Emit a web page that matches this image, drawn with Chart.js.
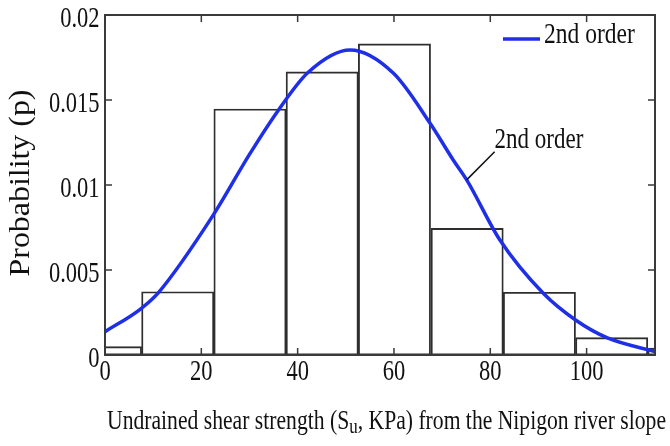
<!DOCTYPE html>
<html>
<head>
<meta charset="utf-8">
<script src="https://cdn.jsdelivr.net/npm/chart.js@4.4.0/dist/chart.umd.min.js"></script>
<style>
  html, body { margin: 0; padding: 0; background: #fff; }
  #wrap { width: 670px; height: 446px; }
</style>
</head>
<body>
<div id="wrap"><canvas id="chartCanvas"></canvas></div>
<script>
// Histogram: bin centres (KPa) and probability of each bin
var binCenters = [0.1, 15.1, 30.1, 45.1, 60.1, 75.2, 90.2, 105.2, 120.2];
var binProb = [0.00049, 0.00372, 0.01447, 0.01665, 0.0183, 0.00745, 0.00369, 0.00102, 0.0004];

// Fitted "2nd order" curve
var curveX = [0, 7.3, 11.1, 22.5, 30, 36, 42.2, 50.9, 59.9, 67.5, 72.3, 75.1, 82, 91, 97.7, 104.2, 114.2];
var curveY = [0.00137, 0.00269, 0.00367, 0.00824, 0.0118, 0.0144, 0.01663, 0.01794, 0.01657, 0.01363, 0.01147, 0.0103, 0.00676, 0.00363, 0.00206, 0.00102, 0.0002];

// Axis ticks
var xTicks = [0, 20, 40, 60, 80, 100];
var yTicks = [0, 0.005, 0.01, 0.015, 0.02];
var yTickLabels = ["0", "0.005", "0.01", "0.015", "0.02"];

var curveLabel = "2nd order";
var curveColor = "#1f2fe6";

var serif = '"Liberation Serif", "Times New Roman", serif';

// text drawn a bit taller than wide, like the original figure
function tallText(ctx, txt, x, y, size, align, sx, sy) {
  ctx.save();
  ctx.translate(x, y);
  ctx.scale(sx, sy);
  ctx.font = size + "px " + serif;
  ctx.textAlign = align;
  ctx.textBaseline = "alphabetic";
  ctx.fillText(txt, 0, 0);
  ctx.restore();
}

var frameAndText = {
  id: "frameAndText",
  afterDraw: function (chart) {
    var ctx = chart.ctx;
    var xs = chart.scales.x, ys = chart.scales.y;
    var a = chart.chartArea;
    ctx.save();

    // box round the plot
    ctx.strokeStyle = "#3a3a3a";
    ctx.lineWidth = 2;
    ctx.strokeRect(a.left, a.top, a.right - a.left, a.bottom - a.top);

    // inward ticks on all four sides
    ctx.lineWidth = 1.5;
    ctx.beginPath();
    xTicks.forEach(function (v) {
      var px = xs.getPixelForValue(v);
      ctx.moveTo(px, a.bottom); ctx.lineTo(px, a.bottom - 7);
      ctx.moveTo(px, a.top); ctx.lineTo(px, a.top + 7);
    });
    yTicks.forEach(function (v) {
      var py = ys.getPixelForValue(v);
      ctx.moveTo(a.left, py); ctx.lineTo(a.left + 7, py);
      ctx.moveTo(a.right, py); ctx.lineTo(a.right - 7, py);
    });
    ctx.stroke();

    ctx.fillStyle = "#111";
    // tick labels
    xTicks.forEach(function (v) {
      tallText(ctx, String(v), xs.getPixelForValue(v), a.bottom + 25, 22.5, "center", 1, 1.27);
    });
    yTicks.forEach(function (v, i) {
      tallText(ctx, yTickLabels[i], a.left - 5.5, ys.getPixelForValue(v) + 12, 22.5, "right", 1, 1.27);
    });

    // y axis title
    ctx.save();
    ctx.translate(29, 183);
    ctx.rotate(-Math.PI / 2);
    ctx.scale(1.1, 1);
    ctx.font = "29px " + serif;
    ctx.textAlign = "center";
    ctx.fillText("Probability (p)", 0, 0);
    ctx.restore();

    // x axis title, with subscript u
    var part1 = "Undrained shear strength (S";
    var sub = "u";
    var part2 = ", KPa) from the Nipigon river slope";
    ctx.save();
    ctx.font = "28px " + serif;
    var w1 = ctx.measureText(part1).width;
    var w3 = ctx.measureText(part2).width;
    ctx.font = "22px " + serif;
    var w2 = ctx.measureText(sub).width;
    var sx = 559 / (w1 + w2 + w3);
    ctx.translate(107, 429);
    ctx.scale(sx, 1);
    ctx.textAlign = "left";
    ctx.font = "28px " + serif;
    ctx.fillText(part1, 0, 0);
    ctx.font = "22px " + serif;
    ctx.fillText(sub, w1, 4);
    ctx.font = "28px " + serif;
    ctx.fillText(part2, w1 + w2, 0);
    ctx.restore();

    // legend in the top right corner
    ctx.strokeStyle = curveColor;
    ctx.lineWidth = 3.5;
    ctx.beginPath();
    ctx.moveTo(503, 39);
    ctx.lineTo(540, 39);
    ctx.stroke();
    tallText(ctx, curveLabel, 544, 43, 23.5, "left", 1, 1.25);

    // label pointing at the curve
    var tipX = xs.getPixelForValue(75.1), tipY = ys.getPixelForValue(0.0103);
    var tailX = xs.getPixelForValue(80.9), tailY = ys.getPixelForValue(0.01196);
    ctx.strokeStyle = "#111";
    ctx.lineWidth = 1.5;
    ctx.beginPath();
    ctx.moveTo(tailX, tailY);
    ctx.lineTo(tipX, tipY);
    ctx.stroke();
    tallText(ctx, curveLabel, tailX, tailY - 4, 23, "left", 1, 1.25);

    ctx.restore();
  }
};

var curvePoints = curveX.map(function (x, i) { return { x: x, y: curveY[i] }; });
var barPoints = binCenters.map(function (x, i) { return { x: x, y: binProb[i] }; });

var ctx = document.getElementById("chartCanvas").getContext("2d");
var myChart = new Chart(ctx, {
  type: "bar",
  data: {
    datasets: [
      {
        type: "line",
        label: curveLabel,
        data: curvePoints,
        borderColor: curveColor,
        borderWidth: 3.5,
        pointRadius: 0,
        fill: false,
        cubicInterpolationMode: "monotone"
      },
      {
        type: "bar",
        label: "histogram",
        data: barPoints,
        backgroundColor: "rgba(0,0,0,0)",
        borderColor: "#2e2e2e",
        borderWidth: 1.2,
        borderSkipped: false,
        barPercentage: 1,
        categoryPercentage: 1
      }
    ]
  },
  options: {
    responsive: true,
    maintainAspectRatio: false,
    animation: false,
    layout: { padding: { left: 105, right: 15, top: 15, bottom: 91 } },
    plugins: { legend: { display: false }, tooltip: { enabled: false } },
    scales: {
      x: {
        type: "linear",
        display: false,
        offset: false,
        min: 0,
        max: 114.2,
        ticks: { stepSize: 20, includeBounds: false }
      },
      y: {
        display: false,
        min: 0,
        max: 0.02,
        ticks: { stepSize: 0.005 }
      }
    }
  },
  plugins: [frameAndText]
});
</script>
</body>
</html>
